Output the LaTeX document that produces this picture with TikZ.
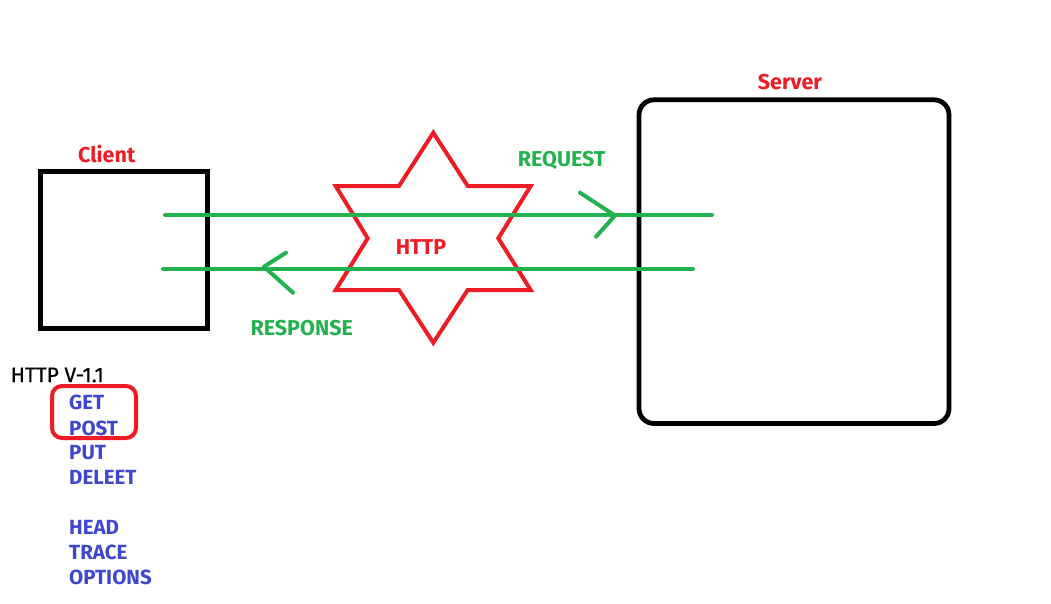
\documentclass[tikz,border=0pt]{standalone}
\usepackage{fontspec}
\setmainfont{Fira Sans}
\newfontfamily\verfont{Fira Sans}[FakeBold=0.6]
\definecolor{pred}{HTML}{ED1C24}
\definecolor{pgreen}{HTML}{22B14C}
\definecolor{pblue}{HTML}{3F48CC}
\begin{document}
\begin{tikzpicture}[x=1pt,y=-1pt,
  box/.style={draw=black,line width=4.8pt},
  lbl/.style={font=\fontsize{21.5}{23}\selectfont\bfseries,inner sep=0pt},
  redlbl/.style={lbl,text=pred},
  greenlbl/.style={lbl,text=pgreen},
  method/.style={font=\fontsize{20.5}{22}\selectfont\bfseries,text=pblue,inner sep=0pt,anchor=west},
  msg/.style={draw=pgreen,line width=4pt,line cap=round,line join=round}]
\useasboundingbox (0,0) rectangle (1051,603);
% boxes
\node[box,minimum width=167pt,minimum height=157pt,inner sep=0pt] (client) at (123.75,249.75) {};
\node[box,rounded corners=15pt,minimum width=310pt,minimum height=323.7pt,inner sep=0pt] (server) at (794,261.65) {};
\node[redlbl] (clientlbl) at (106.7,154) {Client};
\node[redlbl] (serverlbl) at (790,81.7) {Server};
% star
\draw[draw=pred,line width=4pt,line join=miter] (433.3,132.7) -- (467.7,186) -- (530.7,186) -- (498.3,238.3) -- (530.7,290) -- (467.7,290) -- (433.3,342.7) -- (399,290) -- (335.7,290) -- (367.7,238.3) -- (335.7,186) -- (399,186) -- cycle;
\node[redlbl] (http) at (421,246.7) {HTTP};
% messages
\coordinate (reqs) at (165,215);
\coordinate (reqe) at (712,215);
\coordinate (reqtip) at (615,215.5);
\coordinate (reqa) at (580,192.7);
\coordinate (reqb) at (596,236.7);
\coordinate (ress) at (693,269);
\coordinate (rese) at (163,269);
\coordinate (restip) at (264,266.7);
\coordinate (resa) at (286,252.7);
\coordinate (resb) at (293,292.7);
\draw[msg] (reqs) -- (reqe);
\draw[msg] (reqa) -- (reqtip) -- (reqb);
\draw[msg] (ress) -- (rese);
\draw[msg] (resa) -- (restip) -- (resb);
\node[greenlbl] (request) at (561.7,160.7) {REQUEST};
\node[greenlbl] (response) at (301.7,328.3) {RESPONSE};
% methods
\node[font=\verfont\fontsize{21}{23}\selectfont,inner sep=0pt,anchor=west] (ver) at (10.5,375) {HTTP V-1.1};
\node[method] (get) at (69,402.7) {GET};
\node[method] (post) at (69,428.3) {POST};
\node[method] (put) at (69,453) {PUT};
\node[method] (del) at (69,477.3) {DELEET};
\node[method] (head) at (69,527.3) {HEAD};
\node[method] (trace) at (69,552) {TRACE};
\node[method] (opt) at (69,577.3) {OPTIONS};
\node[draw=pred,line width=4pt,rounded corners=10pt,minimum width=84pt,minimum height=52pt,inner sep=0pt] (sel) at (94,412) {};
\end{tikzpicture}
\end{document}
